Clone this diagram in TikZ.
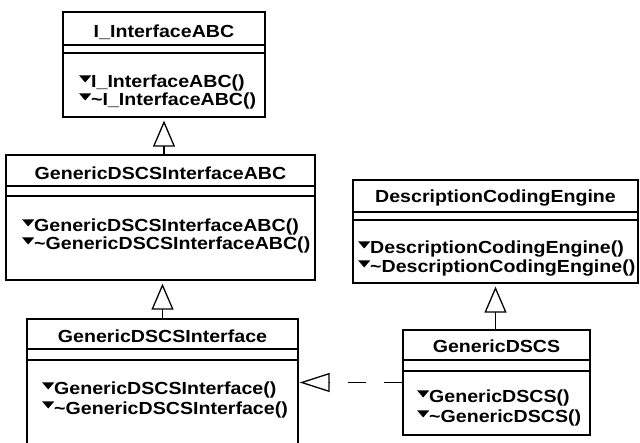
\documentclass[tikz,border=0pt]{standalone}
\usepackage{fontspec}
\setmainfont{Liberation Sans}[FakeStretch=1.12]
\usetikzlibrary{arrows.meta}
\newcommand\mk{\tikz[baseline=0pt]\fill (0pt,12.5pt) -- (12pt,12.5pt) -- (6pt,5.5pt) -- cycle;}
\tikzset{
  cls/.style={draw, line width=1.3pt, inner sep=0pt, fill=white},
  ttl/.style={anchor=base, inner sep=0pt, font=\fontsize{17.5}{20}\selectfont\bfseries},
  mth/.style={anchor=base west, inner sep=0pt, font=\fontsize{17.5}{20}\selectfont\bfseries},
  sep/.style={line width=1.3pt},
  inh/.style={line width=1.3pt, -{Triangle[open, width=22pt, length=26pt, line width=1.3pt]}, shorten >=3pt},
  real/.style={line width=1.3pt, dash pattern=on 18pt off 18pt, -{Triangle[open, width=19pt, length=30pt, line width=1.3pt]}, shorten >=1pt}
}
\begin{document}
\begin{tikzpicture}[x=1pt,y=-1pt]
\useasboundingbox (0,0) rectangle (640,443);
\clip (0,0) rectangle (640,443);
% boxes
\node[cls, minimum width=202pt, minimum height=105pt] (b1) at (164,64.5) {};
\node[cls, minimum width=309pt, minimum height=125pt] (b2) at (160.5,217.5) {};
\node[cls, minimum width=271pt, minimum height=151pt] (b3) at (162.5,394.5) {};
\node[cls, minimum width=285pt, minimum height=103pt] (b4) at (495.5,231.5) {};
\node[cls, minimum width=187pt, minimum height=105pt] (b5) at (496.5,382.5) {};
% box 1
\node[ttl] (t1) at (164,38) {I\_InterfaceABC};
\draw[sep] (b1.west |- 0,45) -- (b1.east |- 0,45);
\draw[sep] (b1.west |- 0,53) -- (b1.east |- 0,53);
\node[mth] (m1a) at (79,88) {\mk I\_InterfaceABC()};
\node[mth] (m1b) at (79,106) {\mk\textasciitilde I\_InterfaceABC()};
% box 2
\node[ttl] (t2) at (160.5,180) {GenericDSCSInterfaceABC};
\draw[sep] (b2.west |- 0,186) -- (b2.east |- 0,186);
\draw[sep] (b2.west |- 0,196) -- (b2.east |- 0,196);
\node[mth] (m2a) at (22,232) {\mk GenericDSCSInterfaceABC()};
\node[mth] (m2b) at (22,250) {\mk\textasciitilde GenericDSCSInterfaceABC()};
% box 3
\node[ttl] (t3) at (162.5,343) {GenericDSCSInterface};
\draw[sep] (b3.west |- 0,349) -- (b3.east |- 0,349);
\draw[sep] (b3.west |- 0,360) -- (b3.east |- 0,360);
\node[mth] (m3a) at (42,395) {\mk GenericDSCSInterface()};
\node[mth] (m3b) at (42,414) {\mk\textasciitilde GenericDSCSInterface()};
% box 4
\node[ttl] (t4) at (495.5,203) {DescriptionCodingEngine};
\draw[sep] (b4.west |- 0,212) -- (b4.east |- 0,212);
\draw[sep] (b4.west |- 0,220) -- (b4.east |- 0,220);
\node[mth] (m4a) at (358,254) {\mk DescriptionCodingEngine()};
\node[mth] (m4b) at (358,273) {\mk\textasciitilde DescriptionCodingEngine()};
% box 5
\node[ttl] (t5) at (496.5,353) {GenericDSCS};
\draw[sep] (b5.west |- 0,360) -- (b5.east |- 0,360);
\draw[sep] (b5.west |- 0,371) -- (b5.east |- 0,371);
\node[mth] (m5a) at (417,403) {\mk GenericDSCS()};
\node[mth] (m5b) at (417,423) {\mk\textasciitilde GenericDSCS()};
% connectors
\draw[inh] (b2.north -| b1.south) -- (b1.south);
\draw[inh] (b3.north) -- (b3.north |- b2.south);
\draw[inh] (b5.north -| b4.south) -- (b4.south);
\draw[real] (b5.west) -- (b5.west -| b3.east);
\end{tikzpicture}
\end{document}
